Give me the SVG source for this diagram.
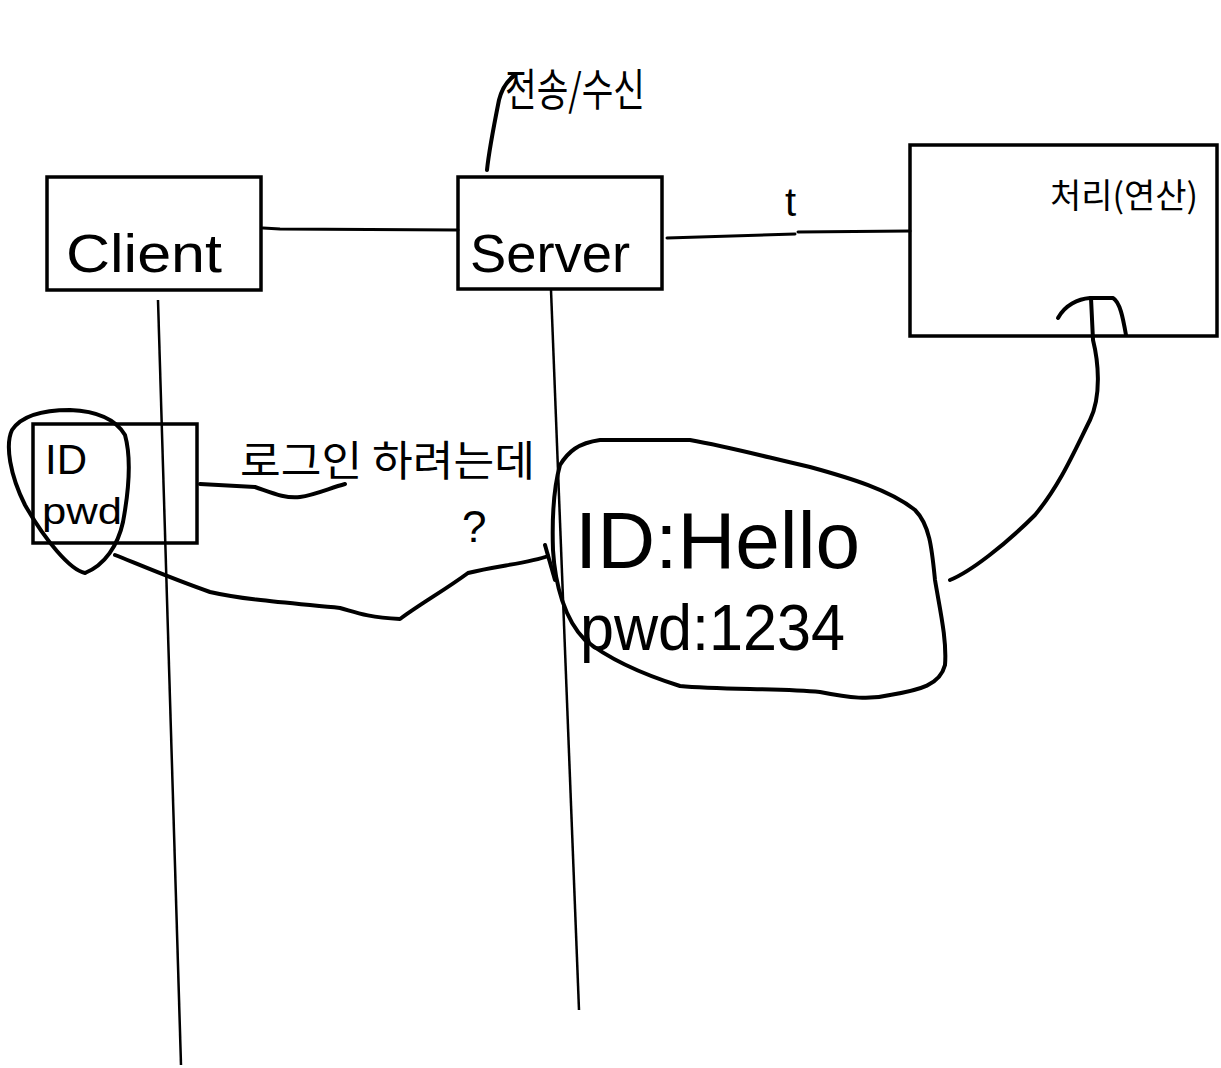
<svg xmlns="http://www.w3.org/2000/svg" width="1221" height="1068" viewBox="0 0 1221 1068">
<style>
.box{fill:none;stroke:#000;stroke-width:3.5}
.ln{fill:none;stroke:#000;stroke-width:3;stroke-linecap:round;stroke-linejoin:round}
.pen{fill:none;stroke:#000;stroke-width:4;stroke-linecap:round;stroke-linejoin:round}
.life{fill:none;stroke:#000;stroke-width:2.5}
.t{font-family:"Liberation Sans","Noto Sans CJK KR",sans-serif;fill:#000}
.k{font-family:"Noto Sans CJK KR","Liberation Sans",sans-serif;fill:#000}
</style>
<rect width="1221" height="1068" fill="#fff"/>
<g id="connectors">
<path class="ln" d="M263,228 L280,229 L458,230"/>
<path class="ln" d="M667,238 L795,234"/>
<path class="ln" d="M798,232 L910,231"/>
<path class="life" d="M158,300 L181,1065"/>
<path class="life" d="M551,290 L579,1010"/>
<path class="pen" d="M487,170 C489,150 494,125 499,100 C502,88 508,80 515,75"/>
<path class="pen" d="M200,484 L255,487 C270,492 285,499 300,497 C315,495 330,488 345,484"/>
<path class="pen" d="M950,580 C970,572 1005,545 1035,515 C1060,485 1075,450 1090,420 C1102,395 1098,360 1093,340 L1091,298"/>
<path class="pen" d="M115,555 C140,565 175,580 210,592 C245,600 290,603 340,608 C355,612 365,617 400,619 C420,604 445,590 468,573 C495,566 530,563 548,556"/>
<path class="pen" d="M545,545 L555,580"/>
</g>
<g id="client">
<rect class="box" x="47" y="177" width="214" height="113"/>
<text class="t" x="66" y="272" font-size="54" textLength="156" lengthAdjust="spacingAndGlyphs">Client</text>
</g>
<g id="server">
<rect class="box" x="458" y="177" width="204" height="112"/>
<text class="t" x="470" y="272" font-size="54" textLength="160" lengthAdjust="spacingAndGlyphs">Server</text>
</g>
<g id="process">
<rect class="box" x="910" y="145" width="307" height="191"/>
<text class="k" x="1050" y="208" font-size="34">처리(연산)</text>
<path class="pen" d="M1058,318 C1065,305 1078,299 1090,298 L1113,298 C1120,302 1123,318 1126,335"/>
<text class="t" x="785" y="216" font-size="40">t</text>
</g>
<g id="send-recv">
<text class="k" x="505" y="106" font-size="44" textLength="140" lengthAdjust="spacingAndGlyphs">전송/수신</text>
</g>
<g id="idpwd">
<rect class="box" x="33" y="424" width="164" height="119"/>
<text class="t" x="45" y="474" font-size="42">ID</text>
<text class="t" x="42" y="524" font-size="36" textLength="80" lengthAdjust="spacingAndGlyphs">pwd</text>
<path class="pen" d="M85,573 C70,570 45,540 25,505 C10,475 5,445 12,430 C22,415 45,410 70,410 C95,411 115,418 125,435 C132,460 128,495 123,522 C118,545 105,565 85,573"/>
</g>
<g id="login">
<text class="k" x="240" y="476" font-size="42" textLength="295" lengthAdjust="spacingAndGlyphs">로그인 하려는데</text>
<text class="t" x="462" y="542" font-size="44">?</text>
</g>
<g id="credentials">
<path class="pen" d="M560,465 C568,452 578,443 600,440 L690,440 C730,447 770,458 810,467 C850,478 890,490 915,510 C930,525 932,550 935,580 C940,610 947,640 945,665 C940,685 920,690 890,695 C870,700 850,698 820,692 C780,688 720,690 680,686 C645,675 610,660 585,640 C565,620 555,585 553,550 C552,520 553,490 560,465"/>
<text class="t" x="575" y="568" font-size="80" textLength="285" lengthAdjust="spacingAndGlyphs">ID:Hello</text>
<text class="t" x="580" y="650" font-size="64" textLength="265" lengthAdjust="spacingAndGlyphs">pwd:1234</text>
</g>
</svg>
